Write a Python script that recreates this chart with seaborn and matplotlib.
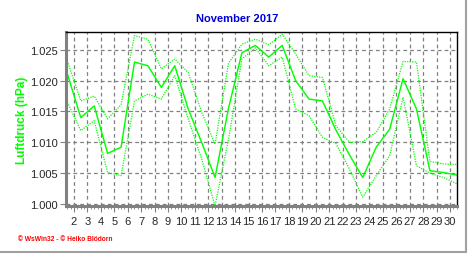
import numpy as np
import pandas as pd
import matplotlib
matplotlib.use("Agg")
import matplotlib.pyplot as plt
from matplotlib.ticker import MultipleLocator, FixedLocator
import seaborn as sns

days = list(range(1, 31))
mean_p = [1.0211, 1.0140, 1.0159, 1.0082, 1.0092, 1.0230, 1.0224, 1.0189, 1.0224, 1.0154,
          1.0100, 1.0043, 1.0155, 1.0245, 1.0257, 1.0238, 1.0257, 1.0200, 1.0170, 1.0167,
          1.0120, 1.0080, 1.0043, 1.0092, 1.0121, 1.0203, 1.0154, 1.0054, 1.0051, 1.0047]
max_p = [1.0232, 1.0167, 1.0175, 1.0138, 1.0161, 1.0273, 1.0267, 1.0219, 1.0235, 1.0213,
         1.0149, 1.0097, 1.0228, 1.0259, 1.0267, 1.0258, 1.0275, 1.0243, 1.0208, 1.0205,
         1.0127, 1.0100, 1.0101, 1.0116, 1.0154, 1.0231, 1.0230, 1.0069, 1.0065, 1.0064]
min_p = [1.0165, 1.0119, 1.0135, 1.0051, 1.0046, 1.0167, 1.0178, 1.0170, 1.0208, 1.0138,
         1.0073, 0.9997, 1.0105, 1.0235, 1.0253, 1.0224, 1.0238, 1.0154, 1.0143, 1.0108,
         1.0098, 1.0057, 1.0011, 1.0046, 1.0078, 1.0173, 1.0062, 1.0050, 1.0043, 1.0033]
tick_days = list(range(2, 31))
title = "November 2017"
ylabel = "Luftdruck (hPa)"
footer = "\u00a9 WsWin32 - \u00a9 Heiko Blödorn"

sns.set_style("white")
plt.rcParams['font.family'] = ['Liberation Sans', 'DejaVu Sans']

# noon of each day
x = np.array(days) + 0.5
df = pd.DataFrame({
    "x": np.concatenate([x, x, x]),
    "p": np.concatenate([max_p, mean_p, min_p]),
    "s": ["max"] * 30 + ["mean"] * 30 + ["min"] * 30,
})

fig = plt.figure(figsize=(4.72, 2.55), dpi=100)
ax = fig.add_axes([66 / 472, 1 - 207.3 / 255, (457.3 - 66) / 472, (207.3 - 33) / 255])

green = "#00FF00"
sns.lineplot(data=df[df.s == "max"], x="x", y="p", ax=ax, color=green, lw=0.9,
             linestyle=(0, (1, 1)), legend=False)
sns.lineplot(data=df[df.s == "min"], x="x", y="p", ax=ax, color=green, lw=0.9,
             linestyle=(0, (1, 1)), legend=False)
sns.lineplot(data=df[df.s == "mean"], x="x", y="p", ax=ax, color=green, lw=1.05,
             legend=False)

ax.set_xlim(1.40, 30.54)
ax.set_ylim(0.99963, 1.02787)

ax.xaxis.set_major_locator(FixedLocator(tick_days))
ax.set_xticklabels([str(d) for d in tick_days])
ax.xaxis.set_minor_locator(MultipleLocator(0.25))
ax.yaxis.set_major_locator(MultipleLocator(0.005))
ax.yaxis.set_major_formatter(matplotlib.ticker.FormatStrFormatter("%.3f"))

ax.grid(True, which="major", color="#808080", linestyle=(0, (3, 2.5)), lw=0.9)
ax.set_axisbelow(True)

ax.tick_params(axis="x", which="major", length=4, width=0.8, color="#808080",
               labelsize=8, pad=3, direction="out", bottom=True)
ax.tick_params(axis="x", which="minor", length=2, width=0.6, color="#808080",
               bottom=True)
ax.tick_params(axis="y", which="major", length=4, width=0.8, color="#808080",
               labelsize=8, pad=2, direction="out", left=True)

for side in ["left", "bottom"]:
    ax.spines[side].set_color("#808080")
    ax.spines[side].set_linewidth(2.2)
for side in ["top", "right"]:
    ax.spines[side].set_color("black")
    ax.spines[side].set_linewidth(1.0)

ax.set_xlabel("")
ax.set_ylabel(ylabel, color=green, fontsize=8.5, fontweight="bold")
ax.yaxis.set_label_coords(-38 / 391, 0.5)

fig.text(237 / 472, 1 - 19 / 255, title, color="#0000DD", fontsize=8,
         fontweight="bold", ha="center", va="center")
fig.text(18 / 472, 1 - 240 / 255, footer, color="#FF0000", fontsize=4.8,
         fontweight="bold", ha="left", va="center")

# image frame (gray right & bottom edges)
fig.add_artist(plt.Line2D([466 / 472, 466 / 472], [1 - 253 / 255, 1.0],
                          transform=fig.transFigure, color="#A0A0A0", lw=1.5))
fig.add_artist(plt.Line2D([0, 466 / 472], [1 - 253 / 255, 1 - 253 / 255],
                          transform=fig.transFigure, color="#A0A0A0", lw=1.5))

fig.savefig("out.png", dpi=100, facecolor="white")
